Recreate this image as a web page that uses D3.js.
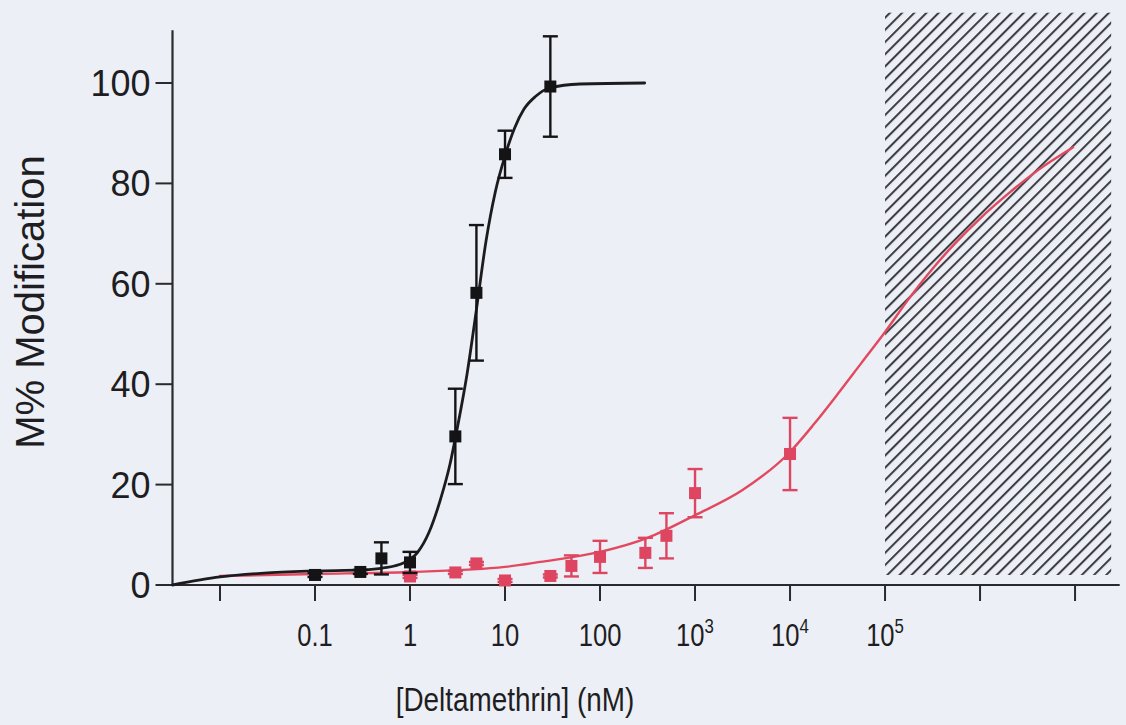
<!DOCTYPE html>
<html>
<head>
<meta charset="utf-8">
<script src="https://cdn.jsdelivr.net/npm/d3@7"></script>
<style>
  html, body { margin: 0; padding: 0; background: #edeff6; }
  svg { display: block; }
  .sans { font-family: "Liberation Sans", Arial, sans-serif; }
</style>
</head>
<body>
<svg id="chart" width="1126" height="725"></svg>
<script>
// Wild-type channel (black): mean % modification ± SEM
const blackConc = [0.1, 0.3, 0.5, 1, 3, 5, 10, 30];
const blackMean = [2.0, 2.6, 5.3, 4.5, 29.6, 58.2, 85.8, 99.3];
const blackSem  = [0.4, 0.4, 3.2, 2.1, 9.5, 13.5, 4.7, 10.0];

// Mutant channel (red): mean % modification ± SEM
const redConc = [1, 3, 5, 10, 30, 50, 100, 300, 500, 1000, 10000];
const redMean = [1.7, 2.5, 4.3, 0.9, 1.8, 3.8, 5.6, 6.4, 9.8, 18.3, 26.1];
const redSem  = [0.3, 0.3, 0.3, 0.3, 0.3, 2.1, 3.2, 3.0, 4.5, 4.8, 7.2];

// Fitted concentration-response curves (log10 nM, % modification)
const blackFitLog = [-2.5, -2, -1.5, -1, -0.5, -0.28, -0.07, 0.08, 0.2, 0.32, 0.42, 0.5, 0.6, 0.7, 0.8, 0.9, 1.0, 1.1, 1.2, 1.32, 1.47, 1.79, 2.47];
const blackFitVal = [0, 1.6, 2.4, 2.8, 3.0, 3.4, 4.4, 6.5, 10.5, 17, 24, 31.5, 42, 55, 68.5, 78.5, 85.5, 91, 94.8, 97.3, 99, 99.8, 100];

const redFitLog = [-2, -1, 0, 1, 1.37, 2, 2.5, 3, 3.5, 4, 4.25, 4.5, 4.75, 5.0, 5.25, 5.5, 5.75, 6.0, 6.3, 6.6, 6.98];
const redFitVal = [1.8, 2.2, 2.6, 3.6, 4.6, 6.6, 9.4, 13.9, 18.9, 26.5, 32, 38, 44.2, 50.4, 57, 63, 68.3, 73, 78, 82.5, 87.2];

// Axis ticks
const xTickValues = [0.01, 0.1, 1, 10, 100, 1e3, 1e4, 1e5, 1e6, 1e7];
const xTickLabels = ["", "0.1", "1", "10", "100", "10^3", "10^4", "10^5", "", ""];
const yTickValues = [0, 20, 40, 60, 80, 100];

// Concentration range beyond solubility (hatched)
const hatchConc = [1e5, 2.4e7];
const hatchVal = [2, 114];

const svg = d3.select("#chart");
const W = 1126, H = 725;

svg.append("rect").attr("width", W).attr("height", H).attr("fill", "#edeff6");

const x = d3.scaleLog().domain([Math.pow(10, -2.5), Math.pow(10, 7.47)]).range([172.5, 1119.7]);
const y = d3.scaleLinear().domain([0, 100]).range([585, 83]);

const defs = svg.append("defs");
const pat = defs.append("pattern")
  .attr("id", "hatch")
  .attr("patternUnits", "userSpaceOnUse")
  .attr("width", 8.6).attr("height", 20)
  .attr("patternTransform", "rotate(45)");
pat.append("line")
  .attr("x1", 2).attr("x2", 2).attr("y1", 0).attr("y2", 20)
  .attr("stroke", "#38383c").attr("stroke-width", 2);

// hatched region
svg.append("rect")
  .attr("x", x(hatchConc[0]))
  .attr("y", y(hatchVal[1]))
  .attr("width", x(hatchConc[1]) - x(hatchConc[0]))
  .attr("height", y(hatchVal[0]) - y(hatchVal[1]))
  .attr("fill", "url(#hatch)");

const axisColor = "#2a2a2e";
const textColor = "#1e1e22";

// y axis
const yAxis = svg.append("g").attr("transform", `translate(${x.range()[0]},0)`);
yAxis.append("line")
  .attr("x1", 0).attr("x2", 0)
  .attr("y1", y(0)).attr("y2", y(110.5))
  .attr("stroke", axisColor).attr("stroke-width", 2.2);
yTickValues.forEach(v => {
  yAxis.append("line")
    .attr("x1", -17).attr("x2", 0)
    .attr("y1", y(v)).attr("y2", y(v))
    .attr("stroke", axisColor).attr("stroke-width", 2);
  yAxis.append("text")
    .attr("class", "sans")
    .attr("x", -22).attr("y", y(v))
    .attr("dy", "0.36em")
    .attr("text-anchor", "end")
    .attr("font-size", 36)
    .attr("fill", textColor)
    .text(v);
});

// x axis (labels set in a horizontally condensed face)
const xAxis = svg.append("g").attr("transform", `translate(0,${y(0)})`);
xAxis.append("line")
  .attr("x1", x.range()[0]).attr("x2", x.range()[1])
  .attr("y1", 0).attr("y2", 0)
  .attr("stroke", axisColor).attr("stroke-width", 2.2);
xTickValues.forEach((v, i) => {
  xAxis.append("line")
    .attr("x1", x(v)).attr("x2", x(v))
    .attr("y1", 0).attr("y2", 16)
    .attr("stroke", axisColor).attr("stroke-width", 2);
  const lab = xTickLabels[i];
  if (!lab) return;
  const t = xAxis.append("g")
    .attr("transform", `translate(${x(v)},61) scale(0.8,1)`)
    .append("text")
    .attr("class", "sans")
    .attr("text-anchor", "middle")
    .attr("font-size", 32)
    .attr("fill", textColor);
  if (lab.includes("^")) {
    const [base, exp] = lab.split("^");
    t.append("tspan").text(base);
    t.append("tspan").attr("dy", -13).attr("font-size", 21).text(exp);
  } else {
    t.text(lab);
  }
});

// axis titles
svg.append("g")
  .attr("transform", "translate(515,711) scale(0.82,1)")
  .append("text")
  .attr("class", "sans")
  .attr("text-anchor", "middle")
  .attr("font-size", 34)
  .attr("fill", textColor)
  .text("[Deltamethrin] (nM)");

svg.append("text")
  .attr("class", "sans")
  .attr("transform", "translate(44,302) rotate(-90)")
  .attr("text-anchor", "middle")
  .attr("font-size", 40)
  .attr("fill", textColor)
  .text("M% Modification");

const line = d3.line()
  .x(d => x(Math.pow(10, d[0])))
  .y(d => y(d[1]))
  .curve(d3.curveMonotoneX);

function drawSeries(conc, mean, sem, fitLog, fitVal, color, markColor, width) {
  const g = svg.append("g");
  g.append("path")
    .datum(fitLog.map((l, i) => [l, fitVal[i]]))
    .attr("d", line)
    .attr("fill", "none")
    .attr("stroke", color)
    .attr("stroke-width", width)
    .attr("stroke-linejoin", "round")
    .attr("stroke-linecap", "round");
  conc.forEach((c, i) => {
    const cx = x(c);
    const yt = y(mean[i] + sem[i]);
    const yb = y(mean[i] - sem[i]);
    g.append("line").attr("x1", cx).attr("x2", cx).attr("y1", yt).attr("y2", yb)
      .attr("stroke", markColor).attr("stroke-width", 2.4);
    [yt, yb].forEach(yy => {
      g.append("line").attr("x1", cx - 7.5).attr("x2", cx + 7.5).attr("y1", yy).attr("y2", yy)
        .attr("stroke", markColor).attr("stroke-width", 2.4);
    });
    g.append("rect")
      .attr("x", cx - 6).attr("y", y(mean[i]) - 6)
      .attr("width", 12).attr("height", 12)
      .attr("fill", markColor);
  });
}

drawSeries(redConc, redMean, redSem, redFitLog, redFitVal, "#e2485e", "#de4560", 2.4);
drawSeries(blackConc, blackMean, blackSem, blackFitLog, blackFitVal, "#1c1c1f", "#141416", 2.8);
</script>
</body>
</html>
